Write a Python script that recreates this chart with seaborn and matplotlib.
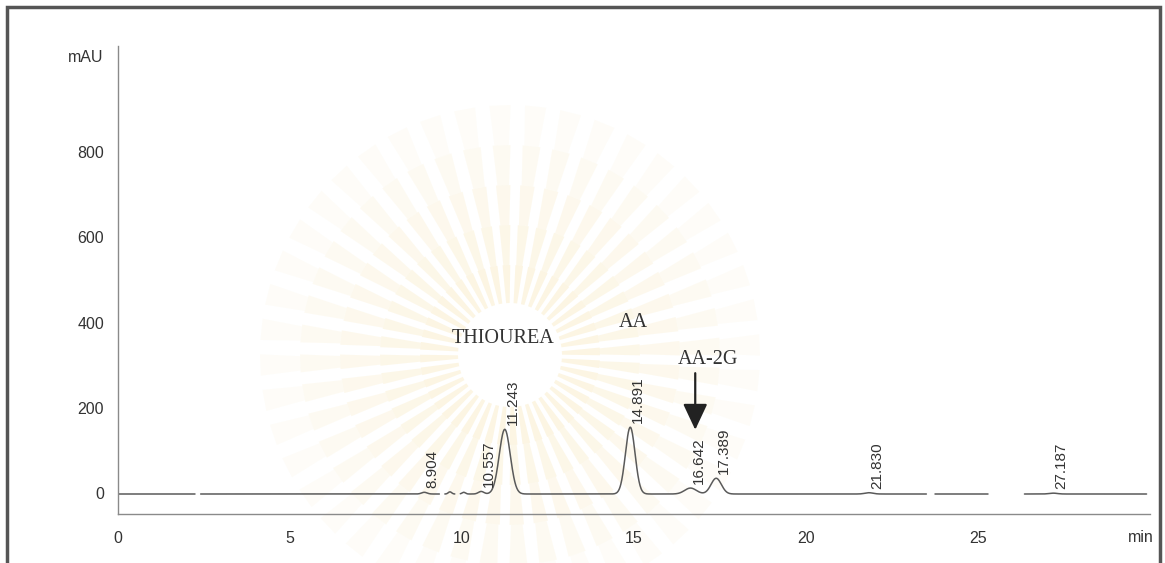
import numpy as np
import pandas as pd
import matplotlib
matplotlib.use("Agg")
import matplotlib.pyplot as plt
from matplotlib.patches import Polygon, Rectangle
from matplotlib.transforms import IdentityTransform
from matplotlib.ticker import MultipleLocator
import seaborn as sns

# Peak table of the run: retention time (min), apex height (mAU), peak sigma (min)
retention_times = [8.904, 9.65, 10.05, 10.557, 11.243, 14.891, 16.642, 17.389, 21.830, 27.187]
peak_heights = [4, 5, 4, 6, 152, 157, 14, 37, 3, 2]
peak_sigmas = [0.08, 0.05, 0.05, 0.08, 0.16, 0.14, 0.17, 0.15, 0.12, 0.12]
labelled_peaks = [8.904, 10.557, 11.243, 14.891, 16.642, 17.389, 21.830, 27.187]
baseline_level = -3
trace_gaps = [(2.25, 2.4), (9.35, 9.5), (9.8, 9.95), (23.5, 23.75), (25.3, 26.35)]

# Compound annotations: name, x (min), y (mAU)
compound_names = ["THIOUREA", "AA", "AA-2G"]
compound_x = [11.2, 14.98, 17.15]
compound_y = [363, 401, 312]
arrow_x = 16.78
arrow_from = 281
arrow_to = 148

y_ticks = [0, 200, 400, 600, 800]
x_ticks = [0, 5, 10, 15, 20, 25]

W, H, DPI = 1165, 563, 100

# Detector signal built from the peak table
t = np.linspace(0, 29.9, 3000)
signal = np.full_like(t, baseline_level, dtype=float)
for rt, h, s in zip(retention_times, peak_heights, peak_sigmas):
    signal += h * np.exp(-0.5 * ((t - rt) / s) ** 2)

keep = np.ones_like(t, dtype=bool)
segment = np.zeros_like(t, dtype=int)
for i, (a, b) in enumerate(trace_gaps):
    keep &= ~((t > a) & (t < b))
    segment[t >= b] = i + 1
df = pd.DataFrame({"time": t, "mAU": signal, "segment": segment})[keep]

sns.set_theme(style="white")
plt.rcParams["font.family"] = ["Liberation Sans", "DejaVu Sans"]

fig = plt.figure(figsize=(W / DPI, H / DPI), dpi=DPI)
fig.patch.set_facecolor("white")

# faint sunburst emblem behind the plot
cx, cy = 510, H - 355
n_rays = 44
bands = [(52, 90, 0.16), (90, 130, 0.13), (130, 170, 0.10),
         (170, 210, 0.07), (210, 250, 0.04)]
for k in range(n_rays):
    ang = 2 * np.pi * k / n_rays + 0.04
    half = np.pi / n_rays * 0.6
    for r0, r1, a in bands:
        pts = [
            (cx + r0 * np.cos(ang - half * 0.8), cy + r0 * np.sin(ang - half * 0.8)),
            (cx + r1 * np.cos(ang - half), cy + r1 * np.sin(ang - half)),
            (cx + r1 * np.cos(ang + half), cy + r1 * np.sin(ang + half)),
            (cx + r0 * np.cos(ang + half * 0.8), cy + r0 * np.sin(ang + half * 0.8)),
        ]
        fig.patches.append(Polygon(pts, closed=True, transform=IdentityTransform(),
                                   facecolor="#efc453", edgecolor="none", alpha=a, zorder=-5))

# outer frame
fig.patches.append(Rectangle((7, -20), 1153, H - 7 + 20, transform=IdentityTransform(),
                             facecolor="none", edgecolor="#555555", lw=2.5, zorder=10))

ax = fig.add_axes([118 / W, 49 / H, 1032 / W, 468 / H])
ax.patch.set_alpha(0)

sns.lineplot(data=df, x="time", y="mAU", units="segment", estimator=None,
             color="#5a5a5a", lw=1.1, ax=ax, legend=False)

ax.set_xlim(0, 30)
ax.set_ylim(-50, 1050)
ax.set_xlabel("")
ax.set_ylabel("")
ax.set_xticks(x_ticks)
ax.set_yticks(y_ticks)
ax.xaxis.set_minor_locator(MultipleLocator(1))
ax.yaxis.set_minor_locator(MultipleLocator(50))

for side in ["top", "right"]:
    ax.spines[side].set_visible(False)
for side in ["left", "bottom"]:
    ax.spines[side].set_color("#8a8a8a")
    ax.spines[side].set_linewidth(1.0)
    ax.spines[side].set_linestyle((0, (2, 1)))

ax.tick_params(axis="both", which="major", direction="out", length=6, width=0.9,
               color="#777777", labelsize=11.5, labelcolor="#333333", pad=4)
ax.tick_params(axis="both", which="minor", direction="out", length=2.5, width=0.7,
               color="#999999")
ax.tick_params(axis="x", which="major", pad=6)

# retention-time labels above peaks
for rt in labelled_peaks:
    h = peak_heights[retention_times.index(rt)] + baseline_level
    ax.annotate(f"{rt:.3f}", xy=(rt, h), xytext=(1, 4), textcoords="offset pixels",
                rotation=90, ha="left", va="bottom", fontsize=11, color="#333333")

# compound names
for name, x, y in zip(compound_names, compound_x, compound_y):
    ax.text(x, y, name, ha="center", va="center", fontsize=14.5, color="#333333",
            family=["Liberation Serif", "DejaVu Serif"])

ax.annotate("", xy=(arrow_x, arrow_to), xytext=(arrow_x, arrow_from),
            arrowprops=dict(arrowstyle="-|>,head_length=1.6,head_width=0.75",
                            mutation_scale=10, lw=1.6, color="#222222",
                            shrinkA=0, shrinkB=0))

fig.text(103 / W, 1 - 57 / H, "mAU", ha="right", va="center", fontsize=11.5, color="#333333")
fig.text(1154 / W, 1 - 538 / H, "min", ha="right", va="center", fontsize=11.5, color="#333333")

fig.savefig("out.png", dpi=DPI, facecolor="white")
